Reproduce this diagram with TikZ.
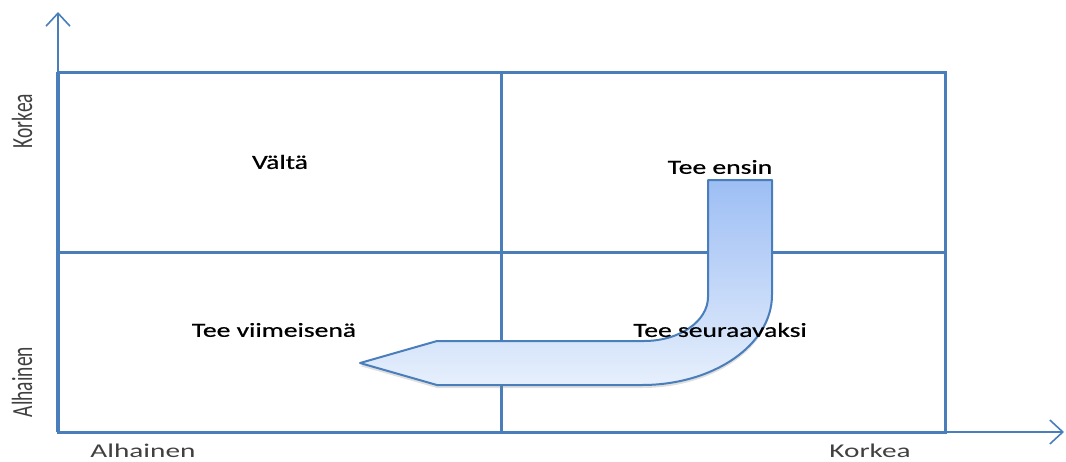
\documentclass[tikz,border=0pt]{standalone}
\usepackage{fontspec}
\setmainfont{Carlito}
\newfontfamily\heavyfont[FakeBold=0.6]{Carlito}
\usetikzlibrary{arrows.meta,shadows}
\definecolor{gridblue}{HTML}{4A7EBB}
\definecolor{shafttop}{HTML}{9DBEF4}
\definecolor{shaftbot}{HTML}{E6EFFC}
\begin{document}
\begin{tikzpicture}[x=1pt,y=-1pt,
  grid/.style={draw=gridblue, line width=3pt},
  axis/.style={draw=gridblue, line width=1.6pt,
    -{Straight Barb[length=13pt,width=24pt,line width=1.6pt]}},
  quad/.style={font=\heavyfont\fontsize{20}{22}\selectfont, text=black, inner sep=0pt},
  axlabel/.style={font=\fontsize{19.5}{21}\selectfont, text=black!75, inner sep=0pt},
  turn/.style={draw=gridblue, line width=2pt, line join=round,
    top color=shafttop, bottom color=shaftbot,
    drop shadow={opacity=0.25, shadow xshift=0pt, shadow yshift=-3pt}},
]
\useasboundingbox (0,0) rectangle (1066,461);

% axes
\coordinate (O) at (58,432);
\coordinate (ytop) at (58,12);
\coordinate (xend) at (1064,432);
\draw[axis] (O) -- (ytop);
\draw[axis] (O) -- (xend);

% 2x2 grid
\draw[grid] (58,72) rectangle (945,432);
\draw[grid] (501,72) -- (501,432);
\draw[grid] (58,252) -- (945,252);
\draw[draw=gridblue, line width=4.5pt] (58,72) -- (58,432);

% U-turn arrow
\path[turn] (708,180) -- (772,180) -- (772,295)
  .. controls (772,344.7) and (713.8,385) .. (642,385)
  -- (437,385) -- (360,363) -- (437,341) -- (644,341)
  .. controls (679.3,341) and (708,321.3) .. (708,297) -- cycle;

% quadrant labels
\node[quad] (avoid) at (280,162) {\scalebox{1.38}[1]{Vältä}};
\node[quad] (first) at (720,167) {\scalebox{1.38}[1]{Tee ensin}};
\node[quad] (last) at (274,330) {\scalebox{1.38}[1]{Tee viimeisenä}};
\node[quad] (next) at (720,330) {\scalebox{1.38}[1]{Tee seuraavaksi}};

% axis labels
\node[axlabel] (yhigh) at (22,121) {\scalebox{1.5}[1]{\rotatebox{90}{Korkea}}};
\node[axlabel] (ylow) at (22,382) {\scalebox{1.5}[1]{\rotatebox{90}{Alhainen}}};
\node[axlabel] (xlow) at (143,451) {\scalebox{1.5}[1]{Alhainen}};
\node[axlabel] (xhigh) at (870,451) {\scalebox{1.5}[1]{Korkea}};
\end{tikzpicture}
\end{document}
